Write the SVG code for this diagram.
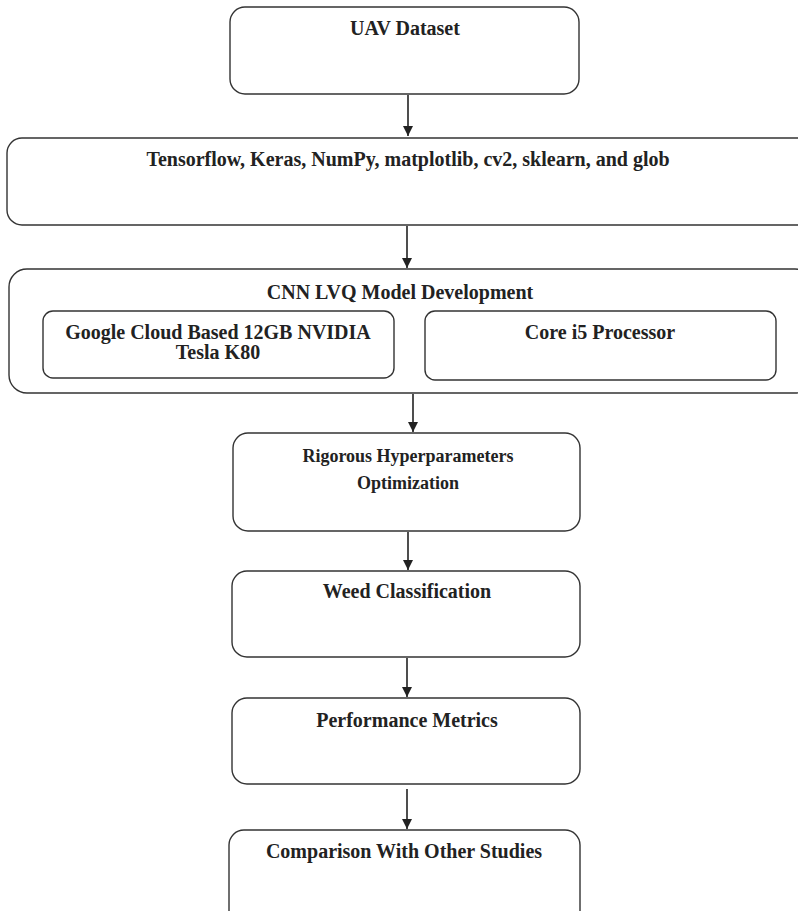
<svg xmlns="http://www.w3.org/2000/svg" width="798" height="911" viewBox="0 0 798 911">
<defs>
<marker id="ah" viewBox="0 0 10 10" refX="10" refY="5" markerWidth="10" markerHeight="10" markerUnits="userSpaceOnUse" orient="auto">
<path d="M0,0 L10,5 L0,10 Z" fill="#222"/>
</marker>
</defs>
<style>
.box{fill:#fff;stroke:#333;stroke-width:1.4}
.t{font-family:"Liberation Serif","Times New Roman",serif;font-weight:bold;font-size:20px;fill:#222;text-anchor:middle}
.s{font-size:18px}
.c{stroke:#222;stroke-width:1.6;fill:none;marker-end:url(#ah)}
</style>
<rect width="798" height="911" fill="#fff"/>
<g id="uav">
<rect class="box" x="230" y="7" width="349" height="87" rx="15"/>
<text class="t" x="405" y="35">UAV Dataset</text>
</g>
<g id="libs">
<rect class="box" x="7" y="138" width="806" height="87" rx="15"/>
<text class="t" x="408" y="166">Tensorflow, Keras, NumPy, matplotlib, cv2, sklearn, and glob</text>
</g>
<g id="cnn">
<rect class="box" x="9" y="269" width="804" height="124" rx="18"/>
<text class="t" x="400" y="299">CNN LVQ Model Development</text>
</g>
<g id="gpu">
<rect class="box" x="43" y="311" width="351" height="67" rx="10"/>
<text class="t" x="218" y="339">Google Cloud Based 12GB NVIDIA</text>
<text class="t" x="218" y="359">Tesla K80</text>
</g>
<g id="cpu">
<rect class="box" x="425" y="311" width="351" height="69" rx="10"/>
<text class="t" x="600" y="339">Core i5 Processor</text>
</g>
<g id="hyper">
<rect class="box" x="233" y="433" width="347" height="98" rx="15"/>
<text class="t s" x="408" y="462">Rigorous Hyperparameters</text>
<text class="t s" x="408" y="489">Optimization</text>
</g>
<g id="weed">
<rect class="box" x="232" y="571" width="348" height="86" rx="15"/>
<text class="t" x="407" y="598">Weed Classification</text>
</g>
<g id="perf">
<rect class="box" x="232" y="698" width="348" height="86" rx="15"/>
<text class="t" x="407" y="727">Performance Metrics</text>
</g>
<g id="comp">
<rect class="box" x="229" y="830" width="351" height="100" rx="15"/>
<text class="t" x="404" y="858">Comparison With Other Studies</text>
</g>
<g id="connectors">
<line class="c" x1="408" y1="95" x2="408" y2="136"/>
<line class="c" x1="407" y1="226" x2="407" y2="268"/>
<line class="c" x1="413" y1="394" x2="413" y2="432"/>
<line class="c" x1="408" y1="532" x2="408" y2="570"/>
<line class="c" x1="407" y1="658" x2="407" y2="697"/>
<line class="c" x1="407" y1="789" x2="407" y2="829"/>
</g>
</svg>
